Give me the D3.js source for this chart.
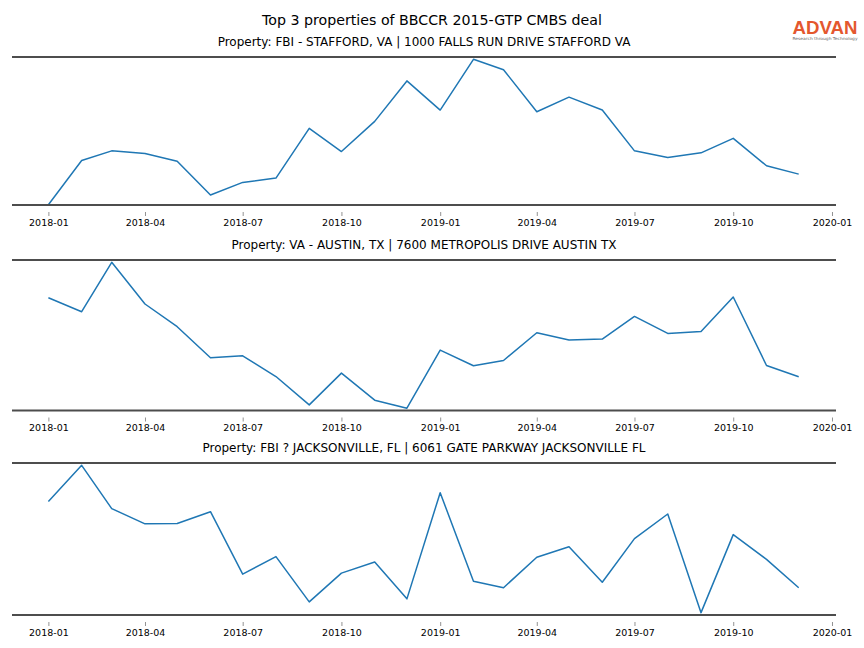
<!DOCTYPE html>
<html>
<head>
<meta charset="utf-8">
<script src="https://cdn.jsdelivr.net/npm/d3@7"></script>
<style>
  html, body { margin: 0; padding: 0; background: #fff; }
  svg { display: block; font-family: "DejaVu Sans", sans-serif; }
</style>
</head>
<body>
<svg id="chart" width="864" height="648"></svg>
<script>
// ---- Data ----
const months = ["2018-01","2018-02","2018-03","2018-04","2018-05","2018-06","2018-07","2018-08","2018-09","2018-10","2018-11","2018-12",
                "2019-01","2019-02","2019-03","2019-04","2019-05","2019-06","2019-07","2019-08","2019-09","2019-10","2019-11","2019-12"];
const titles = [
  "Property: FBI - STAFFORD, VA | 1000 FALLS RUN DRIVE STAFFORD VA",
  "Property: VA - AUSTIN, TX | 7600 METROPOLIS DRIVE AUSTIN TX",
  "Property: FBI ? JACKSONVILLE, FL | 6061 GATE PARKWAY JACKSONVILLE FL"
];
const stafford = [0, 44.5, 54.2, 51.5, 43.8, 9.8, 22.5, 26.8, 76.8, 53.5, 83.8, 124.5,
                  95.2, 146.2, 135.8, 93.5, 108.2, 95.2, 54.2, 47.5, 52.2, 66.8, 39.2, 30.8];
const austin = [112.7, 98.7, 148, 106.4, 83.7, 52.7, 54.7, 34, 5.7, 37.4, 10.4, 2.4,
                60.4, 44.7, 50, 77.7, 70.4, 71.4, 94, 77, 79, 113.4, 45, 33.7];
const jacksonville = [112.3, 148, 105.3, 90.3, 90.7, 102.3, 40.7, 58, 13.3, 41.7, 52.7, 16.3,
                      121, 33.7, 27.3, 57.3, 67.7, 32.7, 75.7, 100, 2.7, 79.7, 55.3, 27.3];
const tickLabels = ["2018-01","2018-04","2018-07","2018-10","2019-01","2019-04","2019-07","2019-10","2020-01"];
const mainTitle = "Top 3 properties of BBCCR 2015-GTP CMBS deal";

const seriesList = [stafford, austin, jacksonville];

// ---- Layout ----
const svg = d3.select("#chart");
const parse = d3.utcParse("%Y-%m");
const dates = months.map(parse);
const tickDates = tickLabels.map(parse);

const left = 12, right = 836;
const panels = [
  {top: 57, bottom: 205},
  {top: 260, bottom: 410.5},
  {top: 463, bottom: 615}
];

// x domain with matplotlib-like margins
const dMin = dates[0], dMax = dates[dates.length - 1];
const span = dMax - dMin;
const x = d3.scaleUtc()
  .domain([new Date(+dMin - span * 0.0485), new Date(+dMax + span * 0.0497)])
  .range([left, right]);

svg.append("text")
  .attr("x", 432).attr("y", 24.5)
  .attr("text-anchor", "middle")
  .attr("font-size", 14.2)
  .attr("fill", "#000")
  .text(mainTitle);

seriesList.forEach((vals, i) => {
  const p = panels[i];
  const ext = d3.extent(vals);
  const pad = (ext[1] - ext[0]) * 0.016;
  const y = d3.scaleLinear().domain([ext[0] - pad * (i === 0 ? 0.1 : 1), ext[1] + pad]).range([p.bottom, p.top]);
  const g = svg.append("g");

  g.append("text")
    .attr("x", (left + right) / 2).attr("y", p.top - 11)
    .attr("text-anchor", "middle")
    .attr("font-size", 12)
    .attr("fill", "#000")
    .text(titles[i]);

  // x axis (ticks sit slightly below the bottom spine)
  const axis = d3.axisBottom(x)
    .tickValues(tickDates)
    .tickFormat((d, k) => tickLabels[k])
    .tickSize(4)
    .tickPadding(3);
  const ag = g.append("g").attr("transform", `translate(0,${p.bottom + 7})`).call(axis);
  ag.select(".domain").remove();
  ag.selectAll(".tick line").attr("stroke", "#777").attr("stroke-width", 0.8);
  ag.selectAll(".tick text").attr("font-size", 9.5).attr("fill", "#000")
    .attr("font-family", "DejaVu Sans, sans-serif");

  // line
  const line = d3.line().x((d, k) => x(dates[k])).y(d => y(d));
  g.append("path")
    .datum(vals)
    .attr("d", line)
    .attr("fill", "none")
    .attr("stroke", "#1f77b4")
    .attr("stroke-width", 1.5)
    .attr("stroke-linejoin", "round");

  // top & bottom spines
  [p.top, p.bottom].forEach(yy => {
    g.append("line")
      .attr("x1", left).attr("x2", right)
      .attr("y1", yy).attr("y2", yy)
      .attr("stroke", "#4d4d4d")
      .attr("stroke-width", 2);
  });
});

// ---- Logo ----
const logo = svg.append("g");
logo.append("text")
  .attr("x", 825).attr("y", 33.5)
  .attr("text-anchor", "middle")
  .attr("font-size", 18.5)
  .attr("font-weight", "bold")
  .attr("font-family", "Liberation Sans, Arial, sans-serif")
  .attr("textLength", 65)
  .attr("lengthAdjust", "spacingAndGlyphs")
  .attr("fill", "#e4572e")
  .text("ADVAN");
logo.append("text")
  .attr("x", 825).attr("y", 40)
  .attr("text-anchor", "middle")
  .attr("font-size", 4)
  .attr("textLength", 65)
  .attr("lengthAdjust", "spacingAndGlyphs")
  .attr("fill", "#666")
  .text("Research through Technology");
</script>
</body>
</html>
